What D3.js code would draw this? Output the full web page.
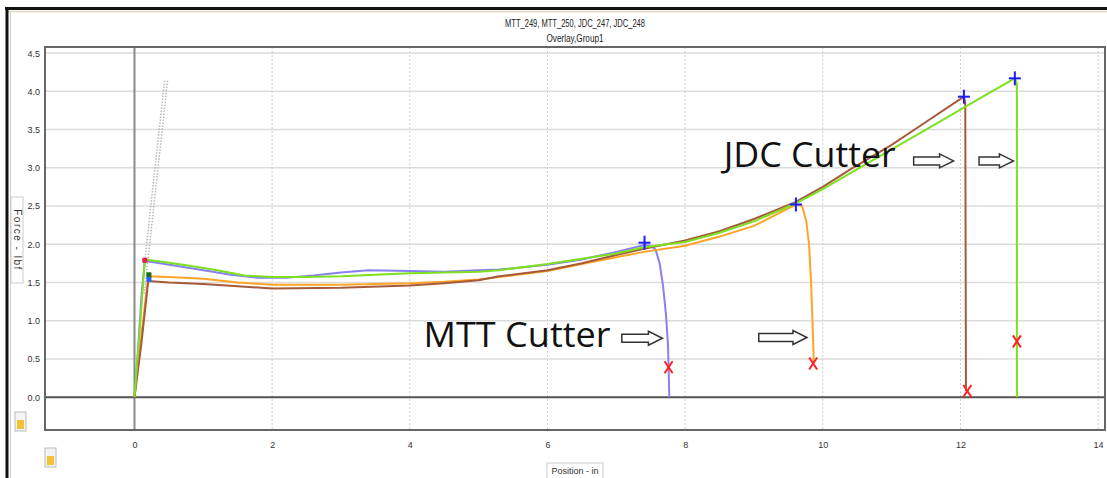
<!DOCTYPE html>
<html>
<head>
<meta charset="utf-8">
<script src="https://cdn.jsdelivr.net/npm/d3@7"></script>
<style>
  body { margin: 0; background: #fff; }
  svg { display: block; }
</style>
</head>
<body>
<div id="chart"></div>
<script>
// Force vs position overlay, four cutter tests

const titleLines = ["MTT_249, MTT_250, JDC_247, JDC_248", "Overlay,Group1"];
const titleWidths = [140, 57];
const xTicks = [0, 2, 4, 6, 8, 10, 12, 14];
const yTicks = [0, 0.5, 1, 1.5, 2, 2.5, 3, 3.5, 4, 4.5];
const xLabel = "Position - in";
const yLabel = "Force - lbf";

// position (in), force (lbf)
const mtt249 = [[0,0],[0.05,0.6],[0.1,1.3],[0.15,1.78],[0.3,1.76],[0.6,1.72],[1.0,1.66],[1.4,1.6],[1.8,1.56],[2.2,1.56],[2.6,1.59],[3.0,1.63],[3.4,1.66],[4.0,1.65],[4.5,1.64],[5.0,1.66],[5.3,1.67],[6.0,1.73],[6.5,1.8],[7.0,1.9],[7.41,1.99],[7.5,1.98],[7.57,1.93],[7.63,1.75],[7.68,1.45],[7.72,1.1],[7.75,0.7],[7.76,0.4],[7.77,0]];
const mtt250 = [[0,0],[0.1,0.8],[0.2,1.58],[0.5,1.57],[1.0,1.55],[1.5,1.5],[2.0,1.47],[3.0,1.47],[4.0,1.49],[4.5,1.51],[5.0,1.54],[5.3,1.57],[6.0,1.65],[6.5,1.74],[7.0,1.83],[7.4,1.9],[8.0,1.98],[8.5,2.1],[9.0,2.24],[9.5,2.47],[9.62,2.52],[9.7,2.5],[9.76,2.3],[9.8,2.0],[9.83,1.5],[9.85,1.0],[9.87,0.44]];
const jdc247 = [[0,0],[0.1,0.7],[0.2,1.52],[0.5,1.5],[1.0,1.48],[1.5,1.45],[2.0,1.42],[3.0,1.43],[4.0,1.46],[4.5,1.49],[5.0,1.53],[5.3,1.58],[6.0,1.66],[6.5,1.75],[7.0,1.86],[7.4,1.94],[8.0,2.05],[8.5,2.17],[9.0,2.33],[9.6,2.55],[10.0,2.75],[10.4,2.98],[11.0,3.3],[11.4,3.54],[12.05,3.93],[12.07,3.85],[12.08,0.08]];
const jdc248 = [[0,0],[0.07,0.8],[0.15,1.8],[0.4,1.77],[0.8,1.72],[1.2,1.66],[1.6,1.59],[2.0,1.57],[2.5,1.57],[3.0,1.58],[3.5,1.6],[4.0,1.62],[4.5,1.63],[5.0,1.64],[5.3,1.66],[6.0,1.74],[7.0,1.88],[7.4,1.96],[8.0,2.03],[8.5,2.15],[9.0,2.3],[9.6,2.53],[10.0,2.72],[10.4,2.93],[11.0,3.24],[11.5,3.5],[12.0,3.76],[12.4,3.97],[12.79,4.17],[12.82,4.1],[12.82,0]];
const seriesData = [mtt249, mtt250, jdc247, jdc248];
const seriesColors = ["#8b80f2", "#ffa426", "#a65a3c", "#7de020"];

const peakPoints = [[7.41, 2.02], [9.61, 2.52], [12.05, 3.93], [12.79, 4.17]];
const breakPoints = [[7.76, 0.39], [9.86, 0.44], [12.1, 0.08], [12.82, 0.73]];
const yieldPoints = [[0.15, 1.79], [0.21, 1.6], [0.21, 1.54]];
const yieldColors = ["#e0204a", "#1a6a1a", "#2a60ff"];
const slopeLine = [[0.12, 1.35], [0.46, 4.15]];

const notes = [
  { text: "MTT Cutter", x: 4.2, y: 0.65, len: 187 },
  { text: "JDC Cutter", x: 8.56, y: 3.01, len: 172 }
];
// arrow start x, end x, y (data units)
const arrows = [[7.08, 7.67, 0.77], [9.07, 9.77, 0.78], [11.32, 11.9, 3.09], [12.27, 12.77, 3.09]];

const W = 1107, H = 478;
const plot = { left: 45, right: 1105, top: 47, bottom: 430 };
const narrow = "'Liberation Sans Narrow', 'Liberation Sans', Arial, sans-serif";

const svg = d3.select("#chart").append("svg")
  .attr("width", W).attr("height", H)
  .style("font-family", narrow);

const x = d3.scaleLinear().domain([-1.3, 14.1]).range([plot.left, plot.right]);
const y = d3.scaleLinear().domain([-0.43, 4.58]).range([plot.bottom, plot.top]);

// window frame
svg.append("line").attr("x1", 5).attr("x2", W).attr("y1", 8.5).attr("y2", 8.5).attr("stroke", "#111").attr("stroke-width", 3);
svg.append("line").attr("x1", 6).attr("x2", W).attr("y1", 11.5).attr("y2", 11.5).attr("stroke", "#e2d6c6").attr("stroke-width", 1.5);
svg.append("line").attr("x1", 7).attr("x2", 7).attr("y1", 7).attr("y2", H).attr("stroke", "#111").attr("stroke-width", 3);
svg.append("line").attr("x1", 10.5).attr("x2", 10.5).attr("y1", 11).attr("y2", H).attr("stroke", "#ccc").attr("stroke-width", 1);

// title
svg.selectAll(".title").data(titleLines).enter().append("text")
  .attr("x", 575).attr("y", (d, i) => 27 + i * 15)
  .attr("text-anchor", "middle").attr("font-size", 10).attr("fill", "#222")
  .attr("textLength", (d, i) => titleWidths[i]).attr("lengthAdjust", "spacingAndGlyphs")
  .text(d => d);

// grid
const g = svg.append("g");
g.selectAll(".hgrid").data(yTicks).enter().append("line")
  .attr("x1", plot.left).attr("x2", plot.right)
  .attr("y1", d => y(d)).attr("y2", d => y(d))
  .attr("stroke", "#dcdcdc").attr("stroke-width", 1.5);
g.selectAll(".vgrid").data(xTicks.filter(d => d !== 0)).enter().append("line")
  .attr("x1", d => x(d)).attr("x2", d => x(d))
  .attr("y1", plot.top).attr("y2", plot.bottom)
  .attr("stroke", "#cfcfcf").attr("stroke-width", 1).attr("stroke-dasharray", "2,2");

// zero lines
g.append("line").attr("x1", x(0)).attr("x2", x(0)).attr("y1", plot.top).attr("y2", plot.bottom)
  .attr("stroke", "#8a8a8a").attr("stroke-width", 2);
g.append("line").attr("x1", plot.left).attr("x2", plot.right).attr("y1", y(0)).attr("y2", y(0))
  .attr("stroke", "#555").attr("stroke-width", 2);

// plot border
g.append("rect").attr("x", plot.left).attr("y", plot.top)
  .attr("width", plot.right - plot.left).attr("height", plot.bottom - plot.top)
  .attr("fill", "none").attr("stroke", "#666").attr("stroke-width", 2);

// axes (labels only)
const xAxis = svg.append("g").attr("transform", `translate(0,${plot.bottom})`)
  .call(d3.axisBottom(x).tickValues(xTicks).tickFormat(d3.format("d")).tickSize(0).tickPadding(12));
const yAxis = svg.append("g").attr("transform", `translate(${plot.left},0)`)
  .call(d3.axisLeft(y).tickValues(yTicks).tickFormat(d3.format(".1f")).tickSize(0).tickPadding(5));
[xAxis, yAxis].forEach(a => {
  a.select(".domain").remove();
  a.selectAll("text").attr("font-size", 9).attr("fill", "#333").style("font-family", narrow);
});

// axis titles in small boxes
const xl = svg.append("g").attr("transform", "translate(575,471)");
xl.append("rect").attr("x", -28).attr("y", -8).attr("width", 56).attr("height", 16)
  .attr("fill", "#fff").attr("stroke", "#ccc");
xl.append("text").attr("text-anchor", "middle").attr("dy", "0.35em")
  .attr("font-size", 9).attr("fill", "#333").text(xLabel);
const yl = svg.append("g").attr("transform", "translate(17,240) rotate(90)");
yl.append("rect").attr("x", -43).attr("y", -6).attr("width", 86).attr("height", 12)
  .attr("fill", "#fff").attr("stroke", "#ccc");
yl.append("text").attr("text-anchor", "middle").attr("dy", "0.35em")
  .attr("font-size", 10).attr("fill", "#333").attr("letter-spacing", 1.5).text(yLabel);

// small icons
[[15, 412], [45, 448]].forEach(p => {
  const ic = svg.append("g").attr("transform", `translate(${p[0]},${p[1]})`);
  ic.append("rect").attr("width", 11).attr("height", 19).attr("fill", "#f4f4f4").attr("stroke", "#bbb");
  ic.append("rect").attr("x", 2).attr("y", 8).attr("width", 7).attr("height", 9).attr("fill", "#f2c233");
});

// dotted stiffness line
const clipId = "plotclip";
svg.append("clipPath").attr("id", clipId).append("rect")
  .attr("x", plot.left).attr("y", plot.top)
  .attr("width", plot.right - plot.left).attr("height", plot.bottom - plot.top);
const data = svg.append("g").attr("clip-path", `url(#${clipId})`);

[-1.5, 1.5].forEach(off => {
  data.append("line")
    .attr("x1", x(slopeLine[0][0]) + off).attr("y1", y(slopeLine[0][1]))
    .attr("x2", x(slopeLine[1][0]) + off).attr("y2", y(slopeLine[1][1]))
    .attr("stroke", "#b8b8b8").attr("stroke-width", 1.5).attr("stroke-dasharray", "1.5,1.5");
});

// curves
const line = d3.line().x(d => x(d[0])).y(d => y(d[1]));
data.selectAll(".series").data(seriesData).enter().append("path")
  .attr("d", line).attr("fill", "none")
  .attr("stroke", (d, i) => seriesColors[i]).attr("stroke-width", 2)
  .attr("stroke-linejoin", "round");

// yield markers
data.selectAll(".yield").data(yieldPoints).enter().append("rect")
  .attr("x", d => x(d[0]) - 2.5).attr("y", d => y(d[1]) - 2.5)
  .attr("width", 5).attr("height", 5).attr("fill", (d, i) => yieldColors[i]);

// peak markers (+)
const plus = data.selectAll(".peak").data(peakPoints).enter().append("g")
  .attr("transform", d => `translate(${x(d[0])},${y(d[1])})`);
plus.append("line").attr("x1", -6).attr("x2", 6).attr("stroke", "#1a1aff").attr("stroke-width", 2);
plus.append("line").attr("y1", -7).attr("y2", 7).attr("stroke", "#1a1aff").attr("stroke-width", 2);

// break markers (x)
const cross = data.selectAll(".brk").data(breakPoints).enter().append("g")
  .attr("transform", d => `translate(${x(d[0])},${y(d[1])})`);
cross.append("line").attr("x1", -4).attr("y1", -6).attr("x2", 4).attr("y2", 6).attr("stroke", "#ff2020").attr("stroke-width", 2);
cross.append("line").attr("x1", 4).attr("y1", -6).attr("x2", -4).attr("y2", 6).attr("stroke", "#ff2020").attr("stroke-width", 2);

// annotations
svg.selectAll(".note").data(notes).enter().append("text")
  .attr("x", d => x(d.x)).attr("y", d => y(d.y))
  .attr("font-size", 34).attr("fill", "#111")
  .attr("textLength", d => d.len).attr("lengthAdjust", "spacingAndGlyphs")
  .style("font-family", "'Open Sans', 'Noto Sans', sans-serif")
  .text(d => d.text);

// block arrows
svg.selectAll(".arrow").data(arrows).enter().append("path")
  .attr("d", d => {
    const x0 = x(d[0]), x1 = x(d[1]), cy = y(d[2]);
    const head = 14, sh = 4, hh = 7;
    return `M${x0},${cy - sh} L${x1 - head},${cy - sh} L${x1 - head},${cy - hh} L${x1},${cy} ` +
      `L${x1 - head},${cy + hh} L${x1 - head},${cy + sh} L${x0},${cy + sh} Z`;
  })
  .attr("fill", "#fff").attr("stroke", "#333").attr("stroke-width", 1.5);
</script>
</body>
</html>
